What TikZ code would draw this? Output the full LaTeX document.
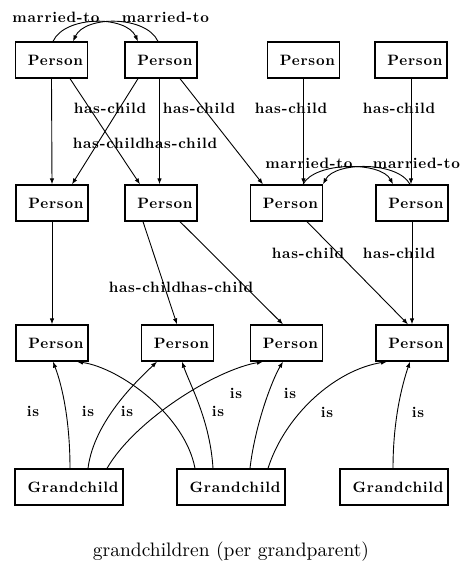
\documentclass[tikz,border=0pt]{standalone}
\usepackage{fontspec}
\usetikzlibrary{arrows.meta}
\newfontfamily\lblface{lmroman10-bold}[Extension=.otf, LetterSpace=5]
\newfontfamily\capface{lmroman10-regular}[Extension=.otf]
\begin{document}
\begin{tikzpicture}[x=1pt,y=-1pt,
  lblfont/.style={font={\lblface\fontsize{15}{17}\selectfont}},
  lbl/.style={lblfont, inner sep=0pt},
  pbox/.style={draw, line width=1.3pt, lblfont, minimum height=36pt,
    text width=63pt, align=right, inner xsep=4.5pt, inner ysep=0pt},
  gbox/.style={pbox, text width=99pt},
  rel/.style={line width=0.9pt, -{Latex[length=6pt,width=4.5pt]}}]
\useasboundingbox (0,0) rectangle (461,588);

% grandparents
\node[pbox] (a1) at (51.5,60) {Person};
\node[pbox] (a2) at (161,60) {Person};
\node[pbox] (a3) at (303.5,60) {Person};
\node[pbox] (a4) at (411,60) {Person};
% parents
\node[pbox] (b1) at (52,203) {Person};
\node[pbox] (b2) at (161,203) {Person};
\node[pbox] (b3) at (286.5,203) {Person};
\node[pbox] (b4) at (412,203) {Person};
% children
\node[pbox] (c1) at (52,343) {Person};
\node[pbox] (c2) at (177.5,343) {Person};
\node[pbox] (c3) at (286.5,343) {Person};
\node[pbox] (c4) at (412,343) {Person};
% grandchild concepts
\node[gbox] (g1) at (69,487) {Grandchild};
\node[gbox] (g2) at (231,487) {Grandchild};
\node[gbox] (g3) at (394,487) {Grandchild};

% marriages
\draw[rel] ([xshift=1.5]a1.north) .. controls +(12,-26) and +(-12,-26) .. ([xshift=-23]a2.north);
\draw[rel] ([xshift=-3]a2.north) .. controls +(-12,-26) and +(12,-26) .. ([xshift=21.5]a1.north);
\draw[rel] ([xshift=16.5]b3.north) .. controls +(12,-23) and +(-12,-23) .. ([xshift=-19]b4.north);
\draw[rel] ([xshift=-2]b4.north) .. controls +(-12,-23) and +(12,-23) .. ([xshift=36.5]b3.north);
\node[lbl] (m1) at (56,17) {married-to};
\node[lbl] (m2) at (165.5,17) {married-to};
\node[lbl] (m3) at (309,163) {married-to};
\node[lbl] (m4) at (416.5,163) {married-to};

% grandparents to parents
\draw[rel] (a1.south) -- (b1.north);
\draw[rel] ([xshift=18.5]a1.south) -- ([xshift=-21]b2.north);
\draw[rel] ([xshift=-23]a2.south) -- ([xshift=20]b1.north);
\draw[rel] ([xshift=-1.5]a2.south) -- ([xshift=-1.5]b2.north);
\draw[rel] ([xshift=19]a2.south) -- ([xshift=-23.5]b3.north);
\draw[rel] (a3.south) -- ([xshift=17]b3.north);
\draw[rel] (a4.south) -- ([xshift=-1]b4.north);
\node[lbl] (h1) at (110,108) {has-child};
\node[lbl] (h2) at (199,108) {has-child};
\node[lbl] (h3) at (291,108) {has-child};
\node[lbl] (h4) at (399,108) {has-child};
\node[lbl] (h5) at (109,143) {has-child};
\node[lbl] (h6) at (181,143) {has-child};

% parents to children
\draw[rel] (b1.south) -- (c1.north);
\draw[rel] ([xshift=-18]b2.south) -- ([xshift=-0.5]c2.north);
\draw[rel] ([xshift=19]b2.south) -- ([xshift=-3.5]c3.north);
\draw[rel] ([xshift=20.5]b3.south) -- ([xshift=-4]c4.north);
\draw[rel] (b4.south) -- (c4.north);
\node[lbl] (h7) at (145,287) {has-child};
\node[lbl] (h8) at (217,287) {has-child};
\node[lbl] (h9) at (308,253) {has-child};
\node[lbl] (h10) at (399,253) {has-child};

% grandchild links
\draw[rel] ([xshift=1]g1.north) .. controls (70,420) and (62,385) .. ([xshift=1]c1.south);
\draw[rel] ([xshift=19]g1.north) .. controls (94,420) and (140,378) .. ([xshift=-20.5]c2.south);
\draw[rel] ([xshift=38]g1.north) .. controls (135,420) and (215,370) .. ([xshift=-23.5]c3.south);
\draw[rel] ([xshift=-36]g2.north) .. controls (185,415) and (120,368) .. ([xshift=25]c1.south);
\draw[rel] ([xshift=-18]g2.north) .. controls (210,420) and (190,385) .. ([xshift=4.5]c2.south);
\draw[rel] ([xshift=19]g2.north) .. controls (255,425) and (272,380) .. ([xshift=-3.5]c3.south);
\draw[rel] ([xshift=37]g2.north) .. controls (285,415) and (335,370) .. ([xshift=-25]c4.south);
\draw[rel] ([xshift=-1]g3.north) .. controls (393,420) and (402,385) .. ([xshift=-2]c4.south);
\node[lbl] (i1) at (33,411) {is};
\node[lbl] (i2) at (88,411) {is};
\node[lbl] (i3) at (127,411) {is};
\node[lbl] (i4) at (218,411) {is};
\node[lbl] (i5) at (236,393) {is};
\node[lbl] (i6) at (290,393) {is};
\node[lbl] (i7) at (327,412) {is};
\node[lbl] (i8) at (418,412) {is};

% caption
\node[font={\capface\fontsize{19.5}{22}\selectfont}, anchor=base] (cap) at (231,556) {grandchildren (per grandparent)};
\end{tikzpicture}
\end{document}
